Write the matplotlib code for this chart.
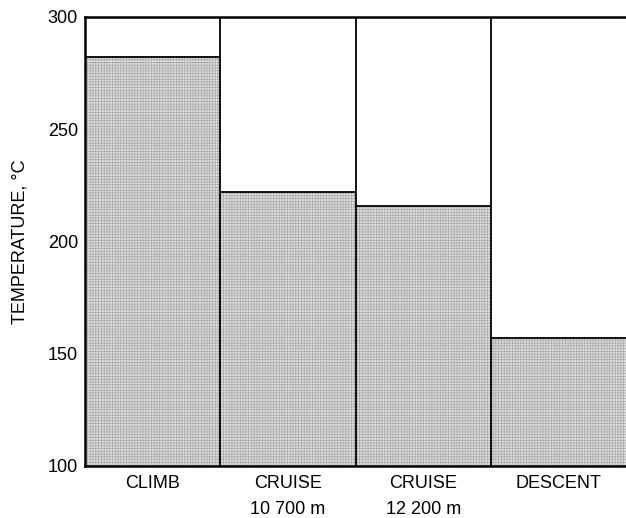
import matplotlib.pyplot as plt
import numpy as np

plt.rcParams['font.family'] = ['Liberation Sans', 'DejaVu Sans']
plt.rcParams['hatch.linewidth'] = 0.5

# data
phases = ['CLIMB', 'CRUISE\n10 700 m', 'CRUISE\n12 200 m', 'DESCENT']
temps = [282, 222, 216, 157]
y_ticks = [100, 150, 200, 250, 300]

fig = plt.figure(figsize=(6.26, 5.18), dpi=100)
ax = fig.add_axes([85 / 626, 52 / 518, 541 / 626, 449 / 518])

x = np.arange(len(temps))
ax.bar(x, np.array(temps) - 100, bottom=100, width=1.0, align='edge',
       facecolor='#dedede', edgecolor='#a8a8a8', hatch='++++++', linewidth=0)

# bar tops and dividers
ax.hlines(temps, x, x + 1, color='black', linewidth=1.3)
ax.vlines(x[1:], 100, 300, color='black', linewidth=1.3)

ax.set_xlim(0, len(temps))
ax.set_ylim(100, 300)
ax.set_yticks(y_ticks)
ax.set_xticks(x + 0.5)
ax.set_xticklabels(phases, linespacing=1.7, va='top')
ax.tick_params(length=0, labelsize=13)
ax.tick_params(axis='x', pad=6.5)
ax.tick_params(axis='y', pad=5)
ax.set_ylabel('TEMPERATURE, \u00b0C', fontsize=13, labelpad=14)

for side in ['left', 'bottom', 'top']:
    ax.spines[side].set_linewidth(1.8)
ax.spines['right'].set_visible(False)

plt.savefig('out.png', dpi=100)
